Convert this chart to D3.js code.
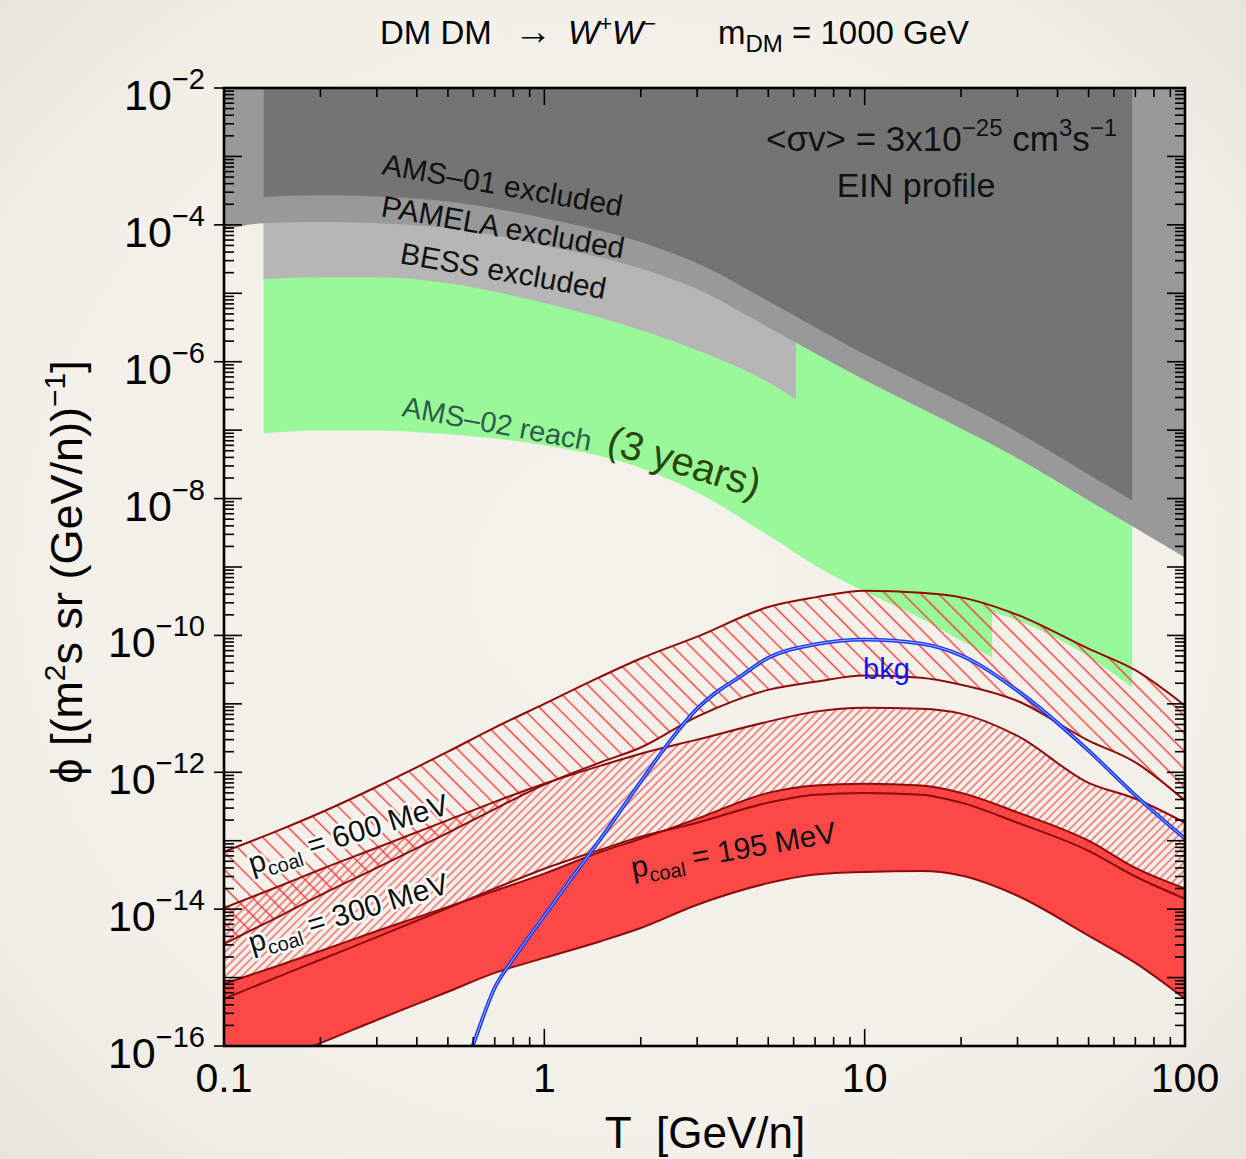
<!DOCTYPE html>
<html>
<head>
<meta charset="utf-8">
<script src="https://cdn.jsdelivr.net/npm/d3@7"></script>
<style>
body { margin: 0; background: #f4f1ea; }
svg text { font-family: "Liberation Sans", Arial, Helvetica, sans-serif; }
</style>
</head>
<body>
<svg id="chart" width="1246" height="1159"></svg>
<script>
// ---- data ----
// kinetic energy grid for the p_coal bands [GeV/n]
var bandT = [0.1, 0.15, 0.2, 0.3, 0.5, 0.7, 1, 1.5, 2, 3, 5, 7, 10, 15, 20, 30, 50, 70, 100];
var p600Upper = [6.9e-14, 1.45e-13, 2.56e-13, 6.15e-13, 2.0e-12, 4.5e-12, 1.0e-11, 2.5e-11, 4.6e-11, 9.6e-11, 2.6e-10, 3.6e-10, 4.5e-10, 4.2e-10, 3.6e-10, 2.0e-10, 6.4e-11, 3.1e-11, 9.4e-12];
var p600Lower = [3.1e-15, 8.0e-15, 1.6e-14, 4.0e-14, 1.3e-13, 2.9e-13, 6.6e-13, 1.4e-12, 2.3e-12, 6.5e-12, 1.6e-11, 2.1e-11, 2.6e-11, 2.4e-11, 1.9e-11, 1.1e-11, 2.9e-12, 1.4e-12, 3.85e-13];
var p300Upper = [1.04e-14, 2.2e-14, 3.8e-14, 7.9e-14, 2.0e-13, 3.7e-13, 6.8e-13, 1.25e-12, 1.87e-12, 3.0e-12, 5.5e-12, 7.7e-12, 8.8e-12, 8.5e-12, 7.2e-12, 3.4e-12, 7.0e-13, 4.1e-13, 1.83e-13];
var p300Lower = [4.9e-16, 1.06e-15, 1.82e-15, 3.9e-15, 1.04e-14, 2.0e-14, 3.9e-14, 7.4e-14, 1.14e-13, 1.83e-13, 3.6e-13, 4.7e-13, 5.0e-13, 4.7e-13, 3.6e-13, 1.83e-13, 7.1e-14, 3.0e-14, 1.42e-14];
var p195Upper = [8.1e-16, 1.53e-15, 2.45e-15, 4.8e-15, 1.08e-14, 1.85e-14, 3.3e-14, 6.9e-14, 1.07e-13, 2.1e-13, 5.0e-13, 6.4e-13, 6.8e-13, 6.4e-13, 5.0e-13, 2.6e-13, 1.0e-13, 4.0e-14, 2.0e-14];
var p195Lower = [3.0e-17, 6.5e-17, 1.1e-16, 2.4e-16, 6.2e-16, 1.17e-15, 1.94e-15, 3.4e-15, 5.3e-15, 1.16e-14, 2.4e-14, 3.2e-14, 3.5e-14, 3.6e-14, 3.1e-14, 1.57e-14, 4.1e-15, 1.64e-15, 4.9e-16];

// secondary antideuteron background
var bkgT = [0.55, 0.6, 0.7, 0.8, 1, 1.2, 1.5, 2, 2.5, 3, 3.5, 4, 5, 7, 10, 15, 20, 30, 50, 70, 100];
var bkgPhi = [3.7e-17, 1.07e-16, 7.1e-16, 1.87e-15, 8.0e-15, 2.6e-14, 1.07e-13, 7.3e-13, 3.1e-12, 8.5e-12, 1.56e-11, 2.34e-11, 4.7e-11, 7.4e-11, 8.7e-11, 7.6e-11, 5.1e-11, 1.56e-11, 2.07e-12, 4.6e-13, 1.07e-13];

// experimental limits (lower edge of each excluded / reach region)
var pamelaT = [0.1, 0.133, 0.2, 0.3, 0.5, 1, 2, 3, 5, 7, 10, 20, 30, 50, 70, 100];
var pamelaPhi = [8.4e-5, 1.06e-4, 1.1e-4, 1.06e-4, 9.0e-5, 5.0e-5, 2.3e-5, 1.15e-5, 3.2e-6, 1.33e-6, 5.4e-7, 1.06e-7, 3.9e-8, 9.4e-9, 3.7e-9, 1.38e-9];
var ams01T = [0.133, 0.2, 0.3, 0.5, 1, 2, 3, 5, 7, 10, 20, 30, 50, 68.4];
var ams01Phi = [2.55e-4, 2.7e-4, 2.6e-4, 2.2e-4, 1.25e-4, 5.6e-5, 2.75e-5, 7.7e-6, 3.2e-6, 1.29e-6, 2.55e-7, 9.3e-8, 2.25e-8, 9.4e-9];
var bessT = [0.133, 0.2, 0.3, 0.5, 1, 2, 3, 5, 6.1];
var bessPhi = [1.61e-5, 1.72e-5, 1.72e-5, 1.4e-5, 7.2e-6, 2.9e-6, 1.47e-6, 5.0e-7, 2.8e-7];
var ams02LowT = [0.133, 0.2, 0.3, 0.5, 1, 2, 3, 5, 7, 10, 15, 20, 25];
var ams02LowPhi = [9.0e-8, 9.9e-8, 9.9e-8, 8.7e-8, 6.0e-8, 2.8e-8, 1.23e-8, 2.9e-9, 1.05e-9, 4.4e-10, 1.77e-10, 8.4e-11, 4.7e-11];
var ams02HighT = [25, 30, 50, 68.4];
var ams02HighPhi = [2.2e-10, 1.65e-10, 4.9e-11, 1.73e-11];

// tick labels
var xTickValues = [0.1, 1, 10, 100];
var xTickLabels = ["0.1", "1", "10", "100"];
var yTickValues = [1e-2, 1e-4, 1e-6, 1e-8, 1e-10, 1e-12, 1e-14, 1e-16];
var yTickExps = ["\u22122", "\u22124", "\u22126", "\u22128", "\u221210", "\u221212", "\u221214", "\u221216"];

// ---- layout ----
var W = 1246, H = 1159;
var pL = 224, pR = 1185, pT = 88, pB = 1046;

var svg = d3.select("#chart");
var defs = svg.append("defs");

var bg = defs.append("radialGradient").attr("id", "bgGrad").attr("cx", "50%").attr("cy", "50%").attr("r", "75%");
bg.append("stop").attr("offset", "0%").attr("stop-color", "#f5f2ec");
bg.append("stop").attr("offset", "70%").attr("stop-color", "#f3f0e9");
bg.append("stop").attr("offset", "100%").attr("stop-color", "#e6e2d9");
svg.append("rect").attr("width", W).attr("height", H).attr("fill", "url(#bgGrad)");

defs.append("clipPath").attr("id", "plotClip")
    .append("rect").attr("x", pL).attr("y", pT)
    .attr("width", pR - pL).attr("height", pB - pT);

//hatch patterns
function hatch(id, spacing, angle, color, width) {
    var p = defs.append("pattern").attr("id", id)
        .attr("patternUnits", "userSpaceOnUse")
        .attr("width", spacing).attr("height", spacing)
        .attr("patternTransform", "rotate(" + angle + ")");
    p.append("line")
        .attr("x1", spacing / 2).attr("y1", -1)
        .attr("x2", spacing / 2).attr("y2", spacing + 1)
        .attr("stroke", color).attr("stroke-width", width);
}
hatch("hatch600", 12.5, -45, "#f03a3a", 1.4);
hatch("hatch300", 5.8, 45, "#f03a3a", 1.1);

var x = d3.scaleLog().domain([0.1, 100]).range([pL, pR]);
var y = d3.scaleLog().domain([1e-16, 1e-2]).range([pB, pT]);

function pairs(t, v) {
    return t.map(function (d, i) { return { t: d, v: v[i] }; });
}
function band(t, lo, hi) {
    return t.map(function (d, i) { return { t: d, lo: lo[i], hi: hi[i] }; });
}

var curve = d3.curveMonotoneX;
var regionArea = d3.area().curve(curve)
    .x(function (d) { return x(d.t); })
    .y0(pT)
    .y1(function (d) { return y(d.v); });
var bandArea = d3.area().curve(curve)
    .x(function (d) { return x(d.t); })
    .y0(function (d) { return y(d.lo); })
    .y1(function (d) { return y(d.hi); });
var line = d3.line().curve(curve)
    .x(function (d) { return x(d.t); })
    .y(function (d) { return y(d.v); });

var plot = svg.append("g").attr("clip-path", "url(#plotClip)");

// AMS-02 reach (green, one path for both pieces), then excluded regions on top
plot.append("path")
    .attr("d", regionArea(pairs(ams02LowT, ams02LowPhi)) + regionArea(pairs(ams02HighT, ams02HighPhi)))
    .attr("fill", "#99f998");
plot.append("path").attr("d", regionArea(pairs(bessT, bessPhi))).attr("fill", "#b6b6b6");
plot.append("path").attr("d", regionArea(pairs(pamelaT, pamelaPhi))).attr("fill", "#999999");
plot.append("path").attr("d", regionArea(pairs(ams01T, ams01Phi))).attr("fill", "#747474");

// p_coal bands
plot.append("path").attr("d", bandArea(band(bandT, p195Lower, p195Upper))).attr("fill", "#fd4848");
plot.append("path").attr("d", bandArea(band(bandT, p300Lower, p300Upper))).attr("fill", "url(#hatch300)");
plot.append("path").attr("d", bandArea(band(bandT, p600Lower, p600Upper))).attr("fill", "url(#hatch600)");

var edges = [p600Upper, p600Lower, p300Upper, p300Lower, p195Upper, p195Lower];
plot.selectAll("path.edge")
    .data(edges)
    .enter()
    .append("path")
    .attr("class", "edge")
    .attr("d", function (v) { return line(pairs(bandT, v)); })
    .attr("fill", "none")
    .attr("stroke", "#8e0b0b")
    .attr("stroke-width", 2);

// background: blue double line
plot.append("path").attr("d", line(pairs(bkgT, bkgPhi)))
    .attr("fill", "none").attr("stroke", "#1c38f2").attr("stroke-width", 3.8);
plot.append("path").attr("d", line(pairs(bkgT, bkgPhi)))
    .attr("fill", "none").attr("stroke", "#9fb8ff").attr("stroke-width", 1);

// ---- axes ----
function isMajor(d) {
    var l = Math.log10(d);
    return Math.abs(l - Math.round(l)) < 1e-6;
}
function isLabelled(d) {
    return yTickValues.some(function (v) { return Math.abs(Math.log10(v) - Math.log10(d)) < 1e-6; });
}
var xTicks = x.ticks();
var yTicks = y.ticks(20);

var axes = svg.append("g").attr("stroke", "#000").attr("stroke-width", 1.6);
axes.selectAll("line.xb").data(xTicks).enter().append("line").attr("class", "xb")
    .attr("x1", function (d) { return x(d); }).attr("x2", function (d) { return x(d); })
    .attr("y1", pB).attr("y2", function (d) { return pB - (isMajor(d) ? 17 : 9); });
axes.selectAll("line.xt").data(xTicks).enter().append("line").attr("class", "xt")
    .attr("x1", function (d) { return x(d); }).attr("x2", function (d) { return x(d); })
    .attr("y1", pT).attr("y2", function (d) { return pT + (isMajor(d) ? 17 : 9); });
axes.selectAll("line.yl").data(yTicks).enter().append("line").attr("class", "yl")
    .attr("y1", function (d) { return y(d); }).attr("y2", function (d) { return y(d); })
    .attr("x1", function (d) { return pL - (isLabelled(d) ? 10 : 0); })
    .attr("x2", function (d) { return pL + (isMajor(d) ? 18 : 10); });
axes.selectAll("line.yr").data(yTicks).enter().append("line").attr("class", "yr")
    .attr("y1", function (d) { return y(d); }).attr("y2", function (d) { return y(d); })
    .attr("x1", pR)
    .attr("x2", function (d) { return pR - (isMajor(d) ? 18 : 10); });

svg.append("rect").attr("x", pL).attr("y", pT)
    .attr("width", pR - pL).attr("height", pB - pT)
    .attr("fill", "none").attr("stroke", "#000").attr("stroke-width", 2.6);

// tick labels
svg.selectAll("text.xl").data(xTickValues).enter().append("text").attr("class", "xl")
    .attr("x", function (d) { return x(d); })
    .attr("y", pB + 46)
    .attr("text-anchor", "middle")
    .attr("font-size", 41)
    .text(function (d, i) { return xTickLabels[i]; });

var yl = svg.selectAll("text.ylab").data(yTickValues).enter().append("text").attr("class", "ylab")
    .attr("x", 205)
    .attr("y", function (d) { return y(d) + 22; })
    .attr("text-anchor", "end")
    .attr("font-size", 43);
yl.append("tspan").text("10");
yl.append("tspan").attr("dy", -21).attr("font-size", 29).text(function (d, i) { return yTickExps[i]; });

// axis titles
svg.append("text").attr("x", 705).attr("y", 1148).attr("text-anchor", "middle")
    .attr("font-size", 44).text("T\u00a0\u00a0[GeV/n]");

var yt = svg.append("text")
    .attr("transform", "translate(82,572) rotate(-90)")
    .attr("text-anchor", "middle").attr("font-size", 45);
yt.append("tspan").text("\u03D5 [(m");
yt.append("tspan").attr("dy", -17).attr("font-size", 30).text("2");
yt.append("tspan").attr("dy", 17).text("s sr (GeV/n))");
yt.append("tspan").attr("dy", -17).attr("font-size", 30).text("\u22121");
yt.append("tspan").attr("dy", 17).text("]");

// title
var tt = svg.append("text").attr("y", 44).attr("font-size", 33);
tt.append("tspan").attr("x", 380).text("DM DM");
tt.append("tspan").attr("x", 514).attr("font-size", 38).text("\u2192");
tt.append("tspan").attr("x", 568).attr("font-style", "italic").text("W");
tt.append("tspan").attr("dy", -13).attr("font-size", 22).text("+");
tt.append("tspan").attr("dy", 13).attr("font-style", "italic").text("W");
tt.append("tspan").attr("dy", -13).attr("font-size", 22).text("\u2212");
tt.append("tspan").attr("dy", 13).attr("x", 718).text("m");
tt.append("tspan").attr("dy", 8).attr("font-size", 24).text("DM");
tt.append("tspan").attr("dy", -8).text(" = 1000 GeV");

// annotations in the plot
var sv = svg.append("text").attr("x", 766).attr("y", 151).attr("font-size", 35).attr("fill", "#111");
sv.append("tspan").text("<\u03C3v> = 3x10");
sv.append("tspan").attr("dy", -15).attr("font-size", 24).text("\u221225");
sv.append("tspan").attr("dy", 15).text(" cm");
sv.append("tspan").attr("dy", -15).attr("font-size", 24).text("3");
sv.append("tspan").attr("dy", 15).text("s");
sv.append("tspan").attr("dy", -15).attr("font-size", 24).text("\u22121");
svg.append("text").attr("x", 916).attr("y", 197).attr("text-anchor", "middle")
    .attr("font-size", 34).attr("fill", "#111").text("EIN profile");

function rotLabel(txt, px, py, angle, size, color) {
    return svg.append("text")
        .attr("transform", "translate(" + px + "," + py + ") rotate(" + angle + ")")
        .attr("font-size", size).attr("fill", color).text(txt);
}
rotLabel("AMS\u201301 excluded", 381, 174, 10, 30, "#111");
rotLabel("PAMELA excluded", 380, 216, 10, 30, "#111");
rotLabel("BESS excluded", 399, 263, 10, 30, "#111");
rotLabel("AMS\u201302 reach", 401, 416, 10.5, 29, "#2d5d4c");
rotLabel("(3 years)", 605, 452, 17, 40, "#2a470f").attr("font-family", "Lato, 'Open Sans', sans-serif");
rotLabel("bkg", 863, 679, 0, 29, "#1414f0");

function coalLabel(value, px, py, angle, halo) {
    var t = svg.append("text")
        .attr("transform", "translate(" + px + "," + py + ") rotate(" + angle + ")")
        .attr("font-size", 30).attr("fill", "#111");
    if (halo) {
        t.attr("stroke", "#fff").attr("stroke-width", 5)
            .attr("stroke-linejoin", "round").attr("paint-order", "stroke");
    }
    t.append("tspan").text("p");
    t.append("tspan").attr("dy", 7).attr("font-size", 20).text("coal");
    t.append("tspan").attr("dy", -7).text(" = " + value + " MeV");
}
coalLabel("600", 252, 874, -17, true);
coalLabel("300", 252, 953, -17, true);
coalLabel("195", 633, 878, -10, false);
</script>
</body>
</html>
